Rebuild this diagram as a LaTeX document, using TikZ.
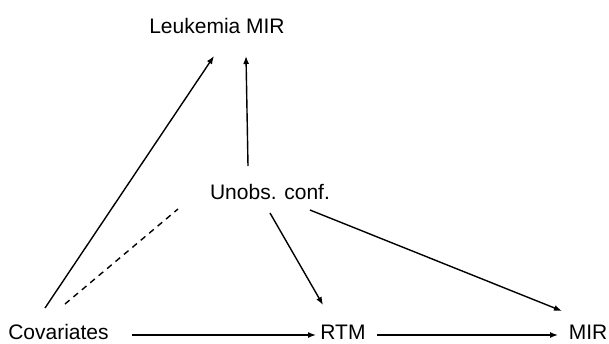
\documentclass[tikz,border=0pt]{standalone}
\usepackage{fontspec}
\setmainfont{Liberation Sans}
\usetikzlibrary{arrows.meta}
\begin{document}
\begin{tikzpicture}[x=1pt,y=-1pt,
  lbl/.style={font=\fontsize{21}{25}\selectfont, inner sep=0pt, anchor=base},
  arr/.style={line width=1.4pt, -{Latex[length=8pt,width=6pt]}},
  dsh/.style={line width=1.4pt, dash pattern=on 6pt off 5pt}]
\useasboundingbox (0,0) rectangle (609,343);
\node[lbl] (leuk) at (217,33) {Leukemia MIR};
\node[lbl] (unobs) at (270,199) {Unobs. conf.};
\node[lbl] (cov) at (58.5,339) {Covariates};
\node[lbl] (rtm) at (343,339) {RTM};
\node[lbl] (mir) at (588,339) {MIR};
% endpoints
\coordinate (covA) at (45,308);
\coordinate (leukA) at (214,56);
\coordinate (unobsA) at (248,166);
\coordinate (leukB) at (246,56);
\coordinate (covB) at (65,304);
\coordinate (unobsB) at (178,209);
\coordinate (unobsC) at (270,213);
\coordinate (rtmA) at (323,305);
\coordinate (unobsD) at (310,210);
\coordinate (mirA) at (562,311);
\coordinate (covC) at (132,335);
\coordinate (rtmB) at (316,335);
\coordinate (rtmC) at (377,335);
\coordinate (mirB) at (558,335);
\draw[arr] (covA) -- (leukA);
\draw[arr] (unobsA) -- (leukB);
\draw[dsh] (covB) -- (unobsB);
\draw[arr] (unobsC) -- (rtmA);
\draw[arr] (unobsD) -- (mirA);
\draw[arr] (covC) -- (rtmB);
\draw[arr] (rtmC) -- (mirB);
\end{tikzpicture}
\end{document}
